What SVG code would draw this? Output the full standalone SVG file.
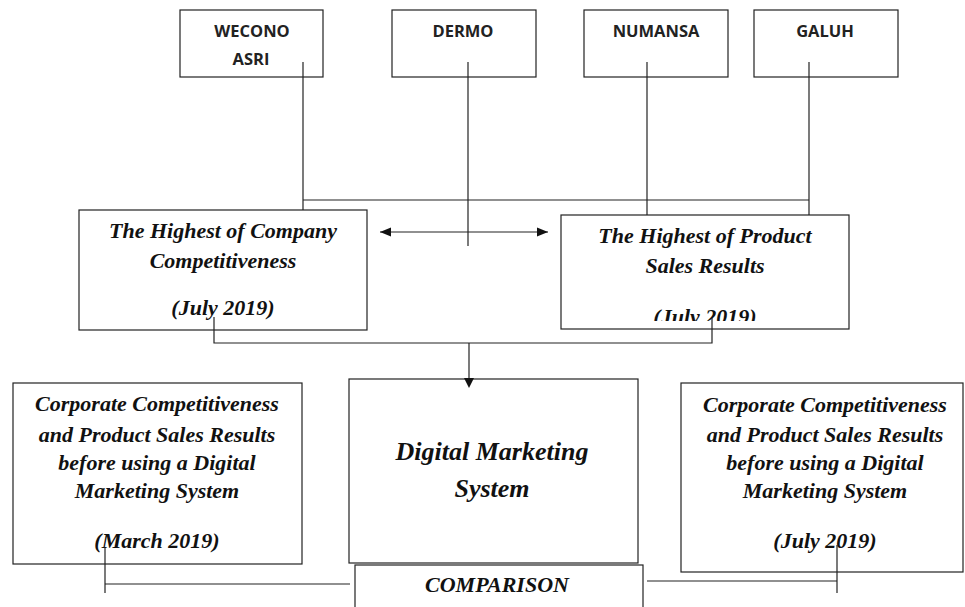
<svg xmlns="http://www.w3.org/2000/svg" width="965" height="607" viewBox="0 0 965 607">
<style>
.box{fill:#fff;stroke:#222;stroke-width:1.2}
.lbl{font-family:"Open Sans","Liberation Sans",sans-serif;font-weight:bold;font-size:16.5px;fill:#222;text-anchor:middle}
.it{font-family:"Liberation Serif","Times New Roman",serif;font-weight:bold;font-style:italic;font-size:22px;fill:#111;text-anchor:middle}
.big{font-size:26px}
.ln{fill:none;stroke:#222;stroke-width:1.2}
</style>
<defs>
<marker id="ah" viewBox="0 0 10 10" refX="10" refY="5" markerWidth="11" markerHeight="11" markerUnits="userSpaceOnUse" orient="auto-start-reverse">
<path d="M0,1 L10,5 L0,9 Z" fill="#111"/>
</marker>
<clipPath id="clipR"><rect x="561" y="215" width="288" height="106"/></clipPath>
</defs>
<rect width="965" height="607" fill="#fff"/>
<g id="connectors">
<polyline class="ln" points="303,62 303,210"/>
<line class="ln" x1="303" y1="200" x2="809" y2="200"/>
<line class="ln" x1="468" y1="62" x2="468" y2="246"/>
<line class="ln" x1="647" y1="62" x2="647" y2="215"/>
<line class="ln" x1="809" y1="62" x2="809" y2="215"/>
<line class="ln" x1="380" y1="232" x2="548" y2="232" marker-start="url(#ah)" marker-end="url(#ah)"/>
<polyline class="ln" points="214,317 214,343 712,343 712,318"/>
<line class="ln" x1="469" y1="343" x2="469" y2="380"/>
<polyline class="ln" points="105,547 105,593"/>
<line class="ln" x1="105" y1="584" x2="350" y2="584"/>
<line class="ln" x1="647" y1="581" x2="837" y2="581"/>
<line class="ln" x1="837" y1="545" x2="837" y2="593"/>
</g>
<g id="wecono">
<rect class="box" x="180" y="10" width="143" height="67"/>
<text class="lbl" x="252" y="37">WECONO</text>
<text class="lbl" x="251" y="65">ASRI</text>
</g>
<g id="dermo">
<rect class="box" x="392" y="10" width="144" height="67"/>
<text class="lbl" x="463" y="37">DERMO</text>
</g>
<g id="numansa">
<rect class="box" x="584" y="10" width="144" height="67"/>
<text class="lbl" x="656" y="37">NUMANSA</text>
</g>
<g id="galuh">
<rect class="box" x="754" y="10" width="144" height="67"/>
<text class="lbl" x="825" y="37">GALUH</text>
</g>
<g id="top-stubs">
<line class="ln" x1="303" y1="62" x2="303" y2="77"/>
<line class="ln" x1="468" y1="62" x2="468" y2="77"/>
<line class="ln" x1="647" y1="62" x2="647" y2="77"/>
<line class="ln" x1="809" y1="62" x2="809" y2="77"/>
</g>
<g id="highest-company">
<rect class="box" x="79" y="210" width="288" height="120"/>
<text class="it" x="223" y="238">The Highest of Company</text>
<text class="it" x="223" y="268">Competitiveness</text>
<text class="it" x="223" y="315">(July 2019)</text>
</g>
<g id="highest-product">
<rect class="box" x="561" y="215" width="288" height="114"/>
<text class="it" x="705" y="243">The Highest of Product</text>
<text class="it" x="705" y="273">Sales Results</text>
<text class="it" x="705" y="324" clip-path="url(#clipR)">(July 2019)</text>
</g>
<g id="mid-stubs">
<line class="ln" x1="214" y1="317" x2="214" y2="330"/>
<line class="ln" x1="712" y1="318" x2="712" y2="329"/>
</g>
<g id="before">
<rect class="box" x="13" y="383" width="289" height="181"/>
<text class="it" x="157" y="411">Corporate Competitiveness</text>
<text class="it" x="157" y="442">and Product Sales Results</text>
<text class="it" x="157" y="470">before using a Digital</text>
<text class="it" x="157" y="498">Marketing System</text>
<text class="it" x="157" y="548">(March 2019)</text>
</g>
<line class="ln" x1="105" y1="547" x2="105" y2="564"/>
<g id="dms">
<rect class="box" x="349" y="379" width="289" height="184"/>
<text class="it big" x="492" y="460">Digital Marketing</text>
<text class="it big" x="492" y="497">System</text>
</g>
<path d="M464,378 L469,388 L474,378 Z" fill="#111"/>
<g id="after">
<rect class="box" x="681" y="383" width="282" height="189"/>
<text class="it" x="825" y="412">Corporate Competitiveness</text>
<text class="it" x="825" y="442">and Product Sales Results</text>
<text class="it" x="825" y="470">before using a Digital</text>
<text class="it" x="825" y="498">Marketing System</text>
<text class="it" x="825" y="548">(July 2019)</text>
</g>
<line class="ln" x1="837" y1="545" x2="837" y2="572"/>
<g id="comparison">
<rect class="box" x="355" y="565" width="288" height="60"/>
<text class="it" x="497" y="592">COMPARISON</text>
</g>
</svg>
